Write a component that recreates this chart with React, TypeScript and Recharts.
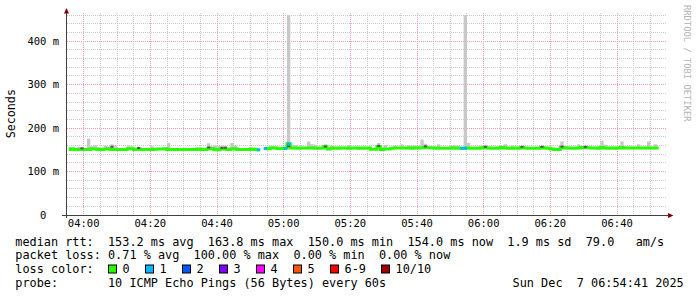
import { ComposedChart, Area, Line, XAxis, YAxis, CartesianGrid } from 'recharts'

// one sample per minute, first one at 03:55 (minute 0)
const xDomain = [0, 180]
const yDomain = [0, 465]
const xTicks = [5, 25, 45, 65, 85, 105, 125, 145, 165]
const xTickLabels = ['04:00', '04:20', '04:40', '05:00', '05:20', '05:40', '06:00', '06:20', '06:40']
const yTicks = [0, 100, 200, 300, 400]
const yTickLabels = ['0\u00a0\u00a0', '100 m', '200 m', '300 m', '400 m']

// median rtt in ms (null = 10/10 lost)
const medianRtt: (number | null)[] = [
  150.5, 152.5, 151, 150.5, 150.5, 150.5, 150.5, 152, 152, 150.5,
  150.5, 152, 152, 150.5, 150.5, 150.5, 150.5, 150.5, 152.5, 152.5,
  150.5, 152, 150.5, 150.5, 150.5, 150.5, 151.5, 152, 152, 152.5,
  150.5, 150.5, 150.5, 150.5, 150.5, 150.5, 150.5, 150.5, 150.5, 152,
  150.5, 150.5, 152.5, 153, 151, 150, 152.5, 152, 150.5, 152,
  152.5, 150.5, 150.5, 150.5, 150.5, 152, 150.5, 150, null, 153,
  152.5, 155, 154, 153, 153, 153.5, 163.8, 154.5, 154, 153.5,
  154, 154, 154, 154, 153.5, 153.5, 154, 157, 152, 153.5,
  154, 153.5, 154, 154, 153.5, 154, 154, 153.5, 154, 153.5,
  154, 151.5, 151.5, 157, 150.5, 152, 152, 153.5, 154, 154,
  154, 154, 154, 153.5, 154, 154, 155, 155.5, 155, 155,
  154, 153.5, 153.5, 153.5, 153.5, 154, 153.5, 153.5, 153.5, 153.5,
  154, 153.5, 153.5, 153.5, 155, 155.5, 154, 153.5, 153.5, 154,
  155.5, 154, 153.5, 153.5, 154, 153.5, 155.5, 154, 153.5, 153.5,
  153.5, 153.5, 155.5, 154, 153.5, 152, 150.5, 151, 155.5, 155,
  154, 153.5, 153.5, 154, 155.5, 155.5, 155, 154, 154, 153.5,
  155.5, 154, 153.5, 154, 153.5, 154, 155.5, 154, 154, 154,
  154, 154, 154, 154, 154, 154, 154, 154,
]

// slowest ping of each minute (top of the smoke), ms
const smokeMax: (number | null)[] = [
  152, 153, 152, 157, 156, 152, 176, 158, 160, 156,
  152, 160, 158, 163, 160, 152, 152, 152, 160, 158,
  152, 157, 153, 152, 152, 158, 153, 153, 153, 154,
  166, 152, 152, 152, 152, 155, 155, 155, 152, 153,
  152, 152, 165, 158, 160, 158, 160, 158, 152, 166,
  160, 152, 152, 152, 152, 153, 152, 151, null, 154,
  154, 156, 155, 154, 154, 155, 460, 161, 161, 155,
  155, 155, 169, 163, 162, 155, 155, 163, 153, 160,
  155, 155, 155, 155, 161, 155, 155, 155, 155, 155,
  155, 153, 153, 166, 152, 161, 153, 155, 160, 155,
  163, 155, 160, 160, 160, 155, 174, 164, 156, 156,
  155, 163, 155, 155, 155, 160, 160, 160, 155, 460,
  166, 155, 155, 155, 160, 160, 155, 155, 155, 155,
  157, 163, 155, 160, 155, 155, 157, 155, 155, 155,
  155, 155, 157, 155, 155, 153, 152, 152, 169, 156,
  155, 155, 155, 163, 157, 157, 156, 155, 155, 155,
  171, 162, 155, 155, 155, 155, 169, 155, 155, 155,
  155, 163, 155, 155, 169, 155, 163, 155,
]

// minutes where 1 of 10 pings was lost
const lossOneMinutes = [57, 59, 65, 66, 118, 119]

// dense smoke just around the median
const darkMinutes = [4, 13, 21, 42, 46, 47, 66, 77, 93, 107, 125, 136, 142, 148, 155]
const darkValues = [153.5, 157, 154, 155.5, 154.5, 155, 158, 157.5, 159, 158, 157, 157, 157, 157.5, 157]

const lossLegend = [
  { label: '0', color: '#26ff00' },
  { label: '1', color: '#00b8ff' },
  { label: '2', color: '#0059ff' },
  { label: '3', color: '#7e00ff' },
  { label: '4', color: '#ff00ff' },
  { label: '5', color: '#ff5500' },
  { label: '6-9', color: '#ff0000' },
  { label: '10/10', color: '#a00000' },
]

const legendLines = [
  'median rtt:  153.2 ms avg  163.8 ms max  150.0 ms min  154.0 ms now  1.9 ms sd  79.0   am/s',
  'packet loss: 0.71 % avg  100.00 % max  0.00 % min  0.00 % now',
  'loss color:',
  'probe:       10 ICMP Echo Pings (56 Bytes) every 60s',
]
const stamp = 'Sun Dec  7 06:54:41 2025'

const minorX = Array.from({ length: 35 }, (_, i) => (i + 1) * 5).filter(v => !xTicks.includes(v))
const minorY = Array.from({ length: 23 }, (_, i) => (i + 1) * 20).filter(v => v % 100 !== 0)
const majorY = [100, 200, 300, 400]

const rows = medianRtt.map((v, i) => ({
  t: i + 0.5,
  med: v,
  smoke: v == null ? null : [v, smokeMax[i]],
  loss1: lossOneMinutes.includes(i) ? v : null,
  dark: darkMinutes.includes(i) ? darkValues[darkMinutes.indexOf(i)] : null,
}))

const mono = "'DejaVu Sans Mono', monospace"
// keep runs of spaces in svg text
const pre = (s: string) => s.replace(/ /g, '\u00a0')

// grid positions, snapped to the pixel so the dotted lines stay crisp
function gridX(values: number[]) {
  return ({ xAxis, offset }: any) =>
    values.map(v => {
      const s = xAxis?.scale
      let px: number
      if (typeof s === 'function') px = s(v)
      else if (s && typeof s.map === 'function') px = s.map(v)
      else px = offset.left + ((v - xDomain[0]) / (xDomain[1] - xDomain[0])) * offset.width
      return Math.floor(px) + 0.5
    })
}
function gridY(values: number[]) {
  return ({ yAxis, offset }: any) =>
    values.map(v => {
      const s = yAxis?.scale
      let px: number
      if (typeof s === 'function') px = s(v)
      else if (s && typeof s.map === 'function') px = s.map(v)
      else px = offset.top + offset.height - ((v - yDomain[0]) / (yDomain[1] - yDomain[0])) * offset.height
      return Math.floor(px) + 0.5
    })
}

const box = (fill: string, w: number, h: number) => (p: any) => {
  const k = `d${p.index}`
  if (p.cy == null || p.value == null || isNaN(p.cy)) return <g key={k} />
  return <rect key={k} x={p.cx - w / 2} y={p.cy - h / 2} width={w} height={h} fill={fill} />
}

export default function App() {
  return (
    <div style={{ position: 'absolute', left: 0, top: 0, width: 697, height: 297, background: '#fff' }}>
      <ComposedChart width={697} height={297} data={rows} margin={{ top: 13, right: 30, bottom: 62, left: 0 }}>
        <CartesianGrid
          stroke="#cbcbcb"
          strokeDasharray="1 1"
          fill="none"
          verticalCoordinatesGenerator={gridX(minorX)}
          horizontalCoordinatesGenerator={gridY(minorY)}
        />
        <CartesianGrid
          stroke="#e6a0a0"
          strokeDasharray="1 1"
          fill="none"
          verticalCoordinatesGenerator={gridX(xTicks)}
          horizontalCoordinatesGenerator={gridY(majorY)}
        />
        <XAxis
          dataKey="t"
          type="number"
          domain={xDomain}
          ticks={xTicks}
          interval={0}
          tickFormatter={(v: number) => xTickLabels[xTicks.indexOf(v)]}
          axisLine={false}
          tickLine={false}
          tickSize={3}
          tickMargin={2}
          height={20}
          tick={{ fontSize: 10.5, fill: '#000', fontFamily: mono }}
          allowDataOverflow
        />
        <YAxis
          type="number"
          domain={yDomain}
          ticks={yTicks}
          interval={0}
          tickFormatter={(v: number) => yTickLabels[yTicks.indexOf(v)]}
          axisLine={false}
          tickLine={false}
          tickSize={6}
          tickMargin={2}
          width={67}
          tick={{ fontSize: 10.5, fill: '#000', fontFamily: mono }}
          allowDataOverflow
        />
        <Area
          dataKey="smoke"
          type="step"
          fill="#c8c8c8"
          fillOpacity={1}
          stroke="none"
          isAnimationActive={false}
        />
        <Line dataKey="dark" stroke="none" dot={box('#555555', 3, 2)} activeDot={false} isAnimationActive={false} />
        <Line
          dataKey="med"
          type="step"
          stroke="#26ff00"
          strokeWidth={3}
          dot={false}
          activeDot={false}
          isAnimationActive={false}
        />
        <Line dataKey="loss1" stroke="none" dot={box('#00b8ff', 3.4, 3)} activeDot={false} isAnimationActive={false} />
      </ComposedChart>

      <svg width={697} height={297} style={{ position: 'absolute', left: 0, top: 0, pointerEvents: 'none' }}>
        {/* axes + arrows */}
        <line x1={62} y1={215.5} x2={669} y2={215.5} stroke="#404040" />
        <line x1={66.5} y1={13} x2={66.5} y2={218} stroke="#404040" />
        <polygon points="64,13.5 69,13.5 66.5,8" fill="#800000" />
        <polygon points="668,213 668,218 673.5,215.5" fill="#800000" />

        <text transform="translate(15,113.7) rotate(-90)" textAnchor="middle" fontFamily={mono} fontSize={11.7} fill="#000">
          Seconds
        </text>
        <text transform="translate(684.3,5) rotate(90)" fontFamily={mono} fontSize={8.8} fill="#b4b4b4">
          RRDTOOL / TOBI OETIKER
        </text>

        <g fontFamily={mono} fontSize={11.85} fill="#000">
          {legendLines.map((s, i) => (
            <text key={i} x={15.3} y={[245.5, 259.1, 272.8, 286.8][i]}>{pre(s)}</text>
          ))}
          {lossLegend.map((l, i) => {
            const sx = [108.5, 145.5, 182.5, 219.5, 256.5, 293.5, 330.5, 381.5][i]
            return (
              <g key={l.label}>
                <rect x={sx} y={265} width={8} height={8} fill={l.color} stroke="#000" strokeWidth={1} />
                <text x={sx + 14} y={272.8}>{l.label}</text>
              </g>
            )
          })}
          <text x={512.6} y={286.8}>{pre(stamp)}</text>
        </g>
      </svg>
    </div>
  )
}
